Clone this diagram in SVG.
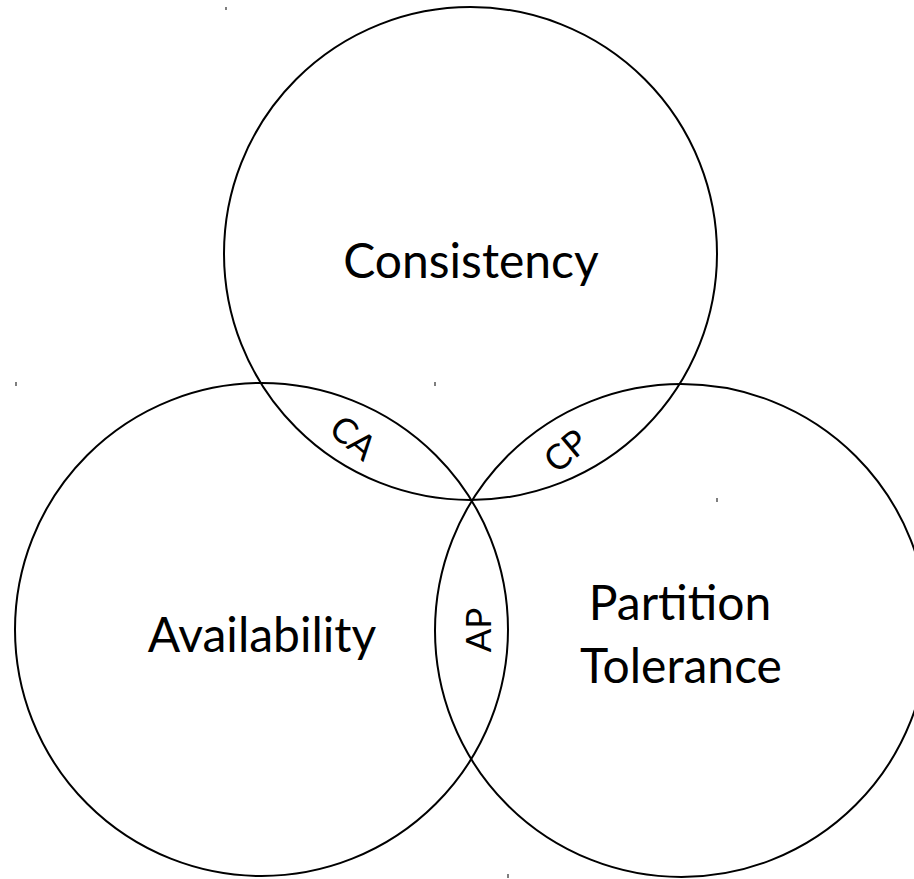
<svg xmlns="http://www.w3.org/2000/svg" width="914" height="879" viewBox="0 0 914 879">
<style>
.c{fill:none;stroke:#000;stroke-width:2}
.big{font-family:Lato,"Open Sans",sans-serif;font-size:48px;fill:#000;text-anchor:middle}
.sm{font-family:Lato,"Open Sans",sans-serif;font-size:35px;fill:#000;text-anchor:middle}
.m{stroke:#555;stroke-width:1.5}
</style>
<rect width="914" height="879" fill="#fff"/>
<g id="consistency">
<circle class="c" cx="470.5" cy="253.5" r="246.5"/>
<text class="big" x="471" y="278">Consistency</text>
</g>
<g id="availability">
<circle class="c" cx="261.5" cy="629.5" r="246.5"/>
<text class="big" x="262" y="652">Availability</text>
</g>
<g id="partition">
<circle class="c" cx="681.5" cy="630.5" r="246.5"/>
<text class="big" x="680" y="620">Partition</text>
<text class="big" x="681" y="683">Tolerance</text>
</g>
<g id="labels">
<text class="sm" transform="translate(353,438) rotate(40)" y="12">CA</text>
<text class="sm" transform="translate(566,451) rotate(-40)" y="12">CP</text>
<text class="sm" transform="translate(479,630) rotate(-90)" y="12">AP</text>
</g>
<g id="marks">
<line class="m" x1="226" y1="7" x2="226" y2="10"/>
<line class="m" x1="16" y1="382" x2="16" y2="386"/>
<line class="m" x1="435" y1="382" x2="435" y2="386"/>
<line class="m" x1="717" y1="498" x2="717" y2="502"/>
<line class="m" x1="508" y1="874" x2="508" y2="878"/>
</g>
</svg>
